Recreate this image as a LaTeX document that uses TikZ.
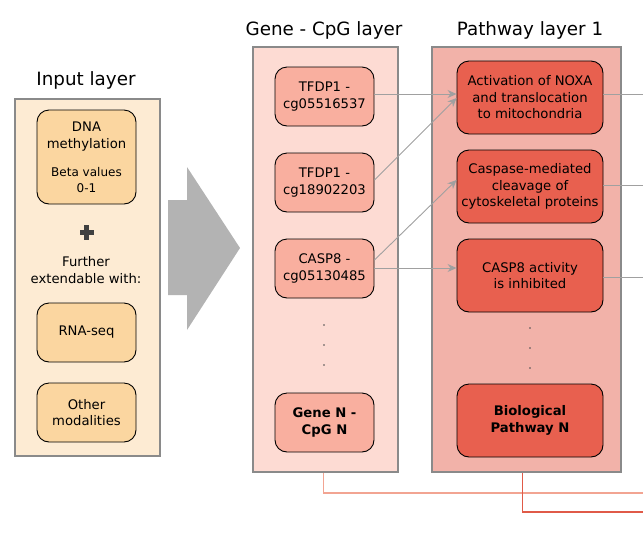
\documentclass[tikz,border=0pt]{standalone}
\usepackage{fontspec}
\setmainfont{DejaVu Sans}
\usetikzlibrary{arrows.meta}
\definecolor{inbg}{HTML}{FDEBD3}
\definecolor{innode}{HTML}{FBD6A0}
\definecolor{genebg}{HTML}{FDDBD3}
\definecolor{genenode}{HTML}{F9AF9F}
\definecolor{pathbg}{HTML}{F2B2A9}
\definecolor{pathnode}{HTML}{E8604F}
\definecolor{framegray}{HTML}{8A8A8A}
\definecolor{conngray}{HTML}{A0A0A0}
\definecolor{bigarrow}{HTML}{B3B3B3}
\definecolor{geneline}{HTML}{F2A492}
\definecolor{pathline}{HTML}{E05A48}
\definecolor{plusgray}{HTML}{404040}
\tikzset{
  layerbox/.style={draw=framegray, line width=1.6pt, inner sep=0pt},
  rnode/.style={draw=black, line width=0.9pt, rounded corners=12pt, inner sep=0pt,
    align=center, font=\fontsize{13.2}{16.5}\selectfont},
  innd/.style={rnode, fill=innode, minimum width=99pt},
  genend/.style={rnode, fill=genenode, minimum width=99pt, minimum height=59pt},
  pathnd/.style={rnode, fill=pathnode, minimum width=146pt, minimum height=73pt},
  titletext/.style={font=\fontsize{18.3}{22}\selectfont},
  conn/.style={draw=conngray, line width=0.9pt},
  connarrow/.style={conn, -{Stealth[length=9pt, width=8pt]}},
  dotmark/.style={fill=black!70, circle, inner sep=0pt, minimum size=1.8pt}
}
\begin{document}
\begin{tikzpicture}[x=1pt,y=-1pt]
\useasboundingbox (0,0) rectangle (643,539);
% layer boxes
\node[layerbox, fill=inbg, minimum width=145pt, minimum height=357pt, anchor=north west] (inlayer) at (14,98) {};
\node[layerbox, fill=genebg, minimum width=145pt, minimum height=425pt, anchor=north west] (genelayer) at (252,46) {};
\node[layerbox, fill=pathbg, minimum width=189pt, minimum height=425pt, anchor=north west] (pathlayer) at (431,46) {};
% titles
\node[titletext] (intitle) at (86,80) {Input layer};
\node[titletext] (genetitle) at (324,30) {Gene - CpG layer};
\node[titletext] (pathtitle) at (530,30) {Pathway layer 1};
% input nodes
\node[innd, minimum height=94pt] (dna) at (86.5,157) {};
\node[font=\fontsize{13.2}{16.5}\selectfont, align=center] (dnatext) at (86.5,136.5) {DNA\\methylation};
\node[font=\fontsize{12}{16}\selectfont, align=center] (betatext) at (86.5,180) {Beta values\\0-1};
\fill[plusgray] (79.5,229.5) rectangle (93.5,235);
\fill[plusgray] (83.75,225) rectangle (89.25,239.5);
\node[font=\fontsize{13.2}{16.5}\selectfont, align=center] (further) at (86,270) {Further\\extendable with:};
\node[innd, minimum height=59pt] (rnaseq) at (86.5,332.5) {RNA-seq};
\node[innd, minimum height=59pt] (other) at (86.5,412.5) {Other\\modalities};
% big arrow
\fill[bigarrow] (168,200) -- (187,200) -- (187,167) -- (240,248) -- (187,330) -- (187,295) -- (168,295) -- cycle;
% gene nodes
\node[genend] (g1) at (324.5,96.5) {TFDP1 -\\cg05516537};
\node[genend] (g2) at (324.5,182.5) {TFDP1 -\\cg18902203};
\node[genend] (g3) at (324.5,268.5) {CASP8 -\\cg05130485};
\node[dotmark] (gd1) at (324,325) {};
\node[dotmark] (gd2) at (324,345) {};
\node[dotmark] (gd3) at (324,365) {};
\node[genend, font=\fontsize{13.2}{16.5}\selectfont\bfseries] (gN) at (324.5,422.5) {Gene N -\\CpG N};
% pathway nodes
\node[pathnd] (p1) at (530,97.5) {Activation of NOXA\\and translocation\\to mitochondria};
\node[pathnd] (p2) at (530,186.5) {Caspase-mediated\\cleavage of\\cytoskeletal proteins};
\node[pathnd] (p3) at (530,275.5) {CASP8 activity\\is inhibited};
\node[dotmark] (pd1) at (530,328) {};
\node[dotmark] (pd2) at (530,348) {};
\node[dotmark] (pd3) at (530,368) {};
\node[pathnd, font=\fontsize{13.2}{16.5}\selectfont\bfseries] (pN) at (530,420.5) {Biological\\Pathway N};
% connectors
\draw[connarrow] (g1.east |- 0,94) -- (p1.west |- 0,94);
\draw[connarrow] (g2.east |- 0,180) -- (p1.west |- 0,98);
\draw[connarrow] (g3.east |- 0,260) -- (p2.west |- 0,180);
\draw[connarrow] (g3.east |- 0,268) -- (p3.west |- 0,268);
\coordinate (o1) at (643,94);
\coordinate (o2) at (643,185);
\coordinate (o3) at (643,277);
\draw[conn] (p1.east |- o1) -- (o1);
\draw[conn] (p2.east |- o2) -- (o2);
\draw[conn] (p3.east |- o3) -- (o3);
\coordinate (gb) at (643,493);
\coordinate (pb) at (643,512);
\draw[draw=geneline, line width=1.2pt] (genelayer.south) ++(-1.5,0.8) |- (gb);
\draw[draw=pathline, line width=1.2pt] (pathlayer.south) ++(-3.5,0.8) |- (pb);
\end{tikzpicture}
\end{document}
